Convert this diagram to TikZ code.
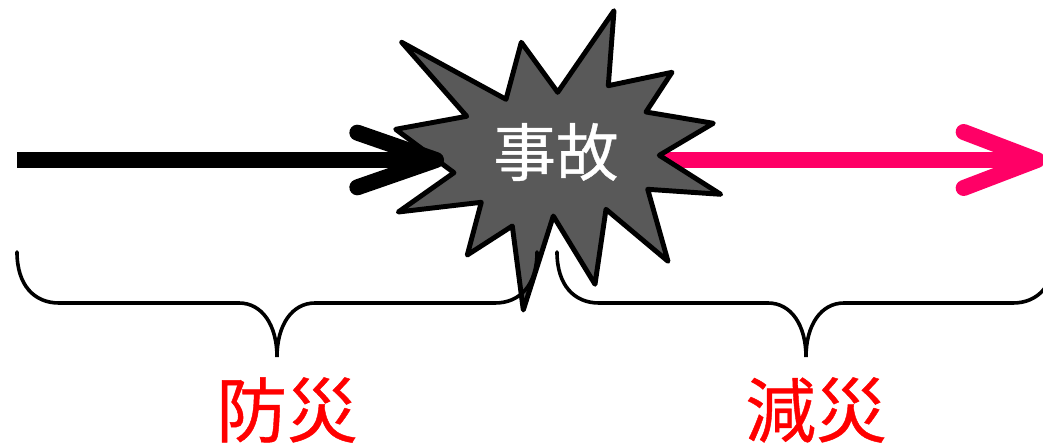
\documentclass[tikz,border=0pt]{standalone}
\usepackage{fontspec}
\usepackage{xcolor}
\usetikzlibrary{arrows.meta}
\newfontfamily\cjk[FakeBold=0.6]{Noto Sans CJK JP}
\definecolor{burstgray}{RGB}{89,89,89}
\definecolor{pinkred}{RGB}{255,0,102}
\begin{document}
\begin{tikzpicture}[x=0.75pt,y=-0.75pt,
        blackarrow/.style={line width=12pt,-{Straight Barb[length=59pt,width=41pt,round]}},
        redarrow/.style={line width=12pt,color=pinkred,-{Straight Barb[length=55pt,width=42pt,round]}},
        burst/.style={line width=3.7pt,line join=round,fill=burstgray},
        bracket/.style={line width=2.7pt,line cap=round},
        label/.style={font=\cjk,text=red,inner sep=0pt}]
            \useasboundingbox (0,0) rectangle (1043,445);
            \clip (0,0) rectangle (1043,445);
            \coordinate (prevstart) at (17,160);
            \coordinate (prevend) at (444,160);
            \coordinate (redstart) at (660,160);
            \coordinate (redend) at (1045,160);
            \draw[redarrow] (redstart) -- (redend);
            \draw[burst] (401.7,42.3) -- (506,99.3) -- (521.3,42.3) -- (557.7,92.3) -- (614,10.7)
                -- (608.3,85.7) -- (672,72.3) -- (646,112) -- (713.3,123.3) -- (659.3,155.3)
                -- (720.7,194.3) -- (647.7,189.3) -- (668,261.3) -- (606,209.3) -- (595,284.3)
                -- (553.3,216) -- (523.3,310) -- (512.3,226) -- (467.3,255) -- (481.3,202.3)
                -- (398.3,212) -- (454,172.7) -- (395.7,129.3) -- (466.7,116.3) -- cycle;
            \draw[blackarrow] (prevstart) -- (prevend);
            \foreach \a/\b/\c in {17/277/537,557/806/1055} {
                \draw[bracket] (\a,252) .. controls (\a,285) and (\a+17,303) .. (\a+42,303)
                    -- (\b-38,303) .. controls (\b-15,303) and (\b,325) .. (\b,357)
                    .. controls (\b,325) and (\b+15,303) .. (\b+38,303)
                    -- (\c-42,303) .. controls (\c-17,303) and (\c,285) .. (\c,252);
            }
            \node[font=\cjk\fontsize{47}{47}\selectfont,text=white,inner sep=0pt] (jiko) at (556,152) {事故};
            \node[label,font=\cjk\fontsize{53}{53}\selectfont] (bousai) at (287,410) {防災};
            \node[label,font=\cjk\fontsize{53}{53}\selectfont] (gensai) at (816,410) {減災};
        \end{tikzpicture}
\end{document}
